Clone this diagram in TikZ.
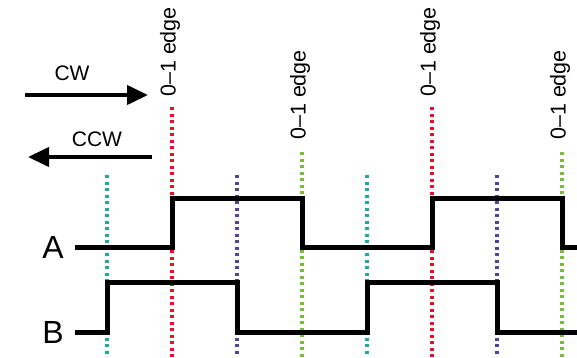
\documentclass[tikz,border=0pt]{standalone}
\usepackage{fontspec}
\setmainfont{Liberation Sans}
\usetikzlibrary{arrows.meta}
\definecolor{edgeteal}{RGB}{32,170,155}
\definecolor{edgered}{RGB}{232,18,40}
\definecolor{edgepurple}{RGB}{80,70,150}
\definecolor{edgegreen}{RGB}{120,190,60}
\tikzset{signal/.style={line width=5pt, line join=miter},
%dotted marker lines at each edge
tick/.style={dash pattern=on 3pt off 3.5pt, line width=3.5pt},
edgelabel/.style={rotate=90, anchor=west, inner sep=0pt, font=\fontsize{21.5}{25}\selectfont},
dirarrow/.style={line width=4pt, -{Triangle[length=21pt,width=19pt]}}}

\begin{document}
\begin{tikzpicture}[x=1pt,y=-1pt]
\useasboundingbox (0,0) rectangle (577,357);
% markers
\foreach \x/\col/\top in {107/edgeteal/175, 172/edgered/107, 237/edgepurple/175, 302/edgegreen/152,
                          367/edgeteal/175, 432/edgered/107, 497/edgepurple/175, 562/edgegreen/152}
     \draw[tick,\col] (\x,\top) -- (\x,357);

%labels
\foreach \x/\y [count=\i] in {170/97, 300/140, 430/97, 560/140}
     \node[edgelabel] (edge\i) at (\x,\y) {0--1 edge};

% direction
\coordinate (cwstart) at (25,95);
\coordinate (cwend) at (148,95);
\coordinate (ccwstart) at (152,157);
\coordinate (ccwend) at (28,157);
\draw[dirarrow] (cwstart) -- (cwend);
\draw[dirarrow] (ccwstart) -- (ccwend);
\node[font=\fontsize{21}{25}\selectfont] (cw) at (72,73) {CW};
\node[font=\fontsize{21}{25}\selectfont] (ccw) at (97,139) {CCW};

% channels
\node[font=\fontsize{32}{36}\selectfont] (chA) at (53,247) {A};
\node[font=\fontsize{32}{36}\selectfont] (chB) at (53,332) {B};
\draw[signal] (75,247) -- (172,247) -- (172,198) -- (302,198) -- (302,247)
     -- (432,247) -- (432,198) -- (562,198) -- (562,247) -- (577,247);
\draw[signal] (75,332) -- (107,332) -- (107,282) -- (237,282) -- (237,332)
     -- (367,332) -- (367,282) -- (497,282) -- (497,332) -- (577,332);

\end{tikzpicture}
\end{document}
